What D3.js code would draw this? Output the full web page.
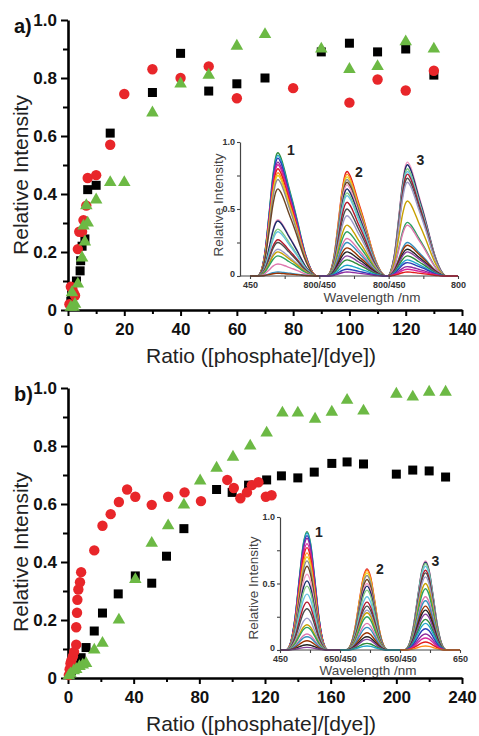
<!DOCTYPE html>
<html>
<head>
<meta charset="utf-8">
<script src="https://cdn.jsdelivr.net/npm/d3@7/dist/d3.min.js"></script>
<style>
   body { margin: 0; background: #fff; }
   svg { display: block; font-family: "Liberation Sans", Arial, sans-serif; }
</style>
</head>
<body>
<svg id="chart" width="479" height="736"></svg>
<script>
// ---- panel a scatter ----
const aBlackX = [1, 1.5, 3, 4.3, 4.5, 5, 6, 7, 10, 15, 30, 40, 50, 60, 70, 90, 100, 110, 120, 130];
const aBlackY = [0.03, 0.06, 0.10, 0.135, 0.17, 0.22, 0.245, 0.415, 0.43, 0.61, 0.75, 0.885, 0.755, 0.78, 0.80, 0.89, 0.92, 0.89, 0.90, 0.81];
const aRedX = [0.5, 1, 1.5, 2, 2.5, 3.5, 4, 5, 5.5, 6.5, 7, 10, 15, 20, 30, 40, 50, 60, 80, 100, 110, 120, 130];
const aRedY = [0.02, 0.08, 0.075, 0.06, 0.05, 0.21, 0.27, 0.27, 0.31, 0.36, 0.455, 0.465, 0.57, 0.745, 0.83, 0.80, 0.84, 0.73, 0.765, 0.715, 0.795, 0.757, 0.825];
const aGreenX = [1, 1.4, 2, 2.5, 3.5, 5, 5.5, 6, 6.5, 7, 10, 15, 20, 30, 40, 50, 60, 70, 90, 100, 110, 120, 130];
const aGreenY = [0.01, 0.06, 0.01, 0.02, 0.09, 0.18, 0.29, 0.235, 0.36, 0.30, 0.38, 0.44, 0.44, 0.68, 0.78, 0.81, 0.91, 0.95, 0.90, 0.83, 0.84, 0.925, 0.90];
const aXTicks = [0, 20, 40, 60, 80, 100, 120, 140];

// ---- panel b scatter ----
const bBlackX = [2, 5, 8, 11, 16, 21, 30.6, 41, 51, 60, 70.6, 90.5, 100, 110, 121, 130, 140, 150, 160.7, 170, 180, 200, 210, 220, 230];
const bBlackY = [0.025, 0.045, 0.07, 0.105, 0.162, 0.224, 0.29, 0.352, 0.327, 0.42, 0.515, 0.65, 0.64, 0.665, 0.683, 0.697, 0.69, 0.71, 0.74, 0.745, 0.738, 0.703, 0.717, 0.714, 0.693];
const bRedX = [0.5, 1, 1.5, 2, 3, 3.7, 5, 5, 5.5, 5.7, 6.3, 7.3, 8, 16, 21, 26, 31, 36, 41, 51, 61, 71, 81, 97, 101, 105, 109, 112, 116, 120.5, 124];
const bRedY = [0.01, 0.03, 0.05, 0.06, 0.075, 0.09, 0.115, 0.175, 0.225, 0.27, 0.305, 0.33, 0.365, 0.44, 0.525, 0.565, 0.607, 0.65, 0.625, 0.597, 0.625, 0.64, 0.61, 0.683, 0.655, 0.62, 0.64, 0.665, 0.675, 0.625, 0.63];
const bGreenX = [0.5, 1.5, 3.5, 5, 7, 9, 11, 16, 21, 31, 41, 51, 61, 70.6, 80.5, 90.5, 100.5, 111, 121, 130.6, 140, 150.5, 160.7, 170, 180, 200, 210, 220, 230];
const bGreenY = [0.008, 0.015, 0.025, 0.03, 0.04, 0.045, 0.05, 0.097, 0.12, 0.20, 0.34, 0.465, 0.525, 0.597, 0.68, 0.724, 0.762, 0.80, 0.845, 0.914, 0.914, 0.893, 0.917, 0.958, 0.921, 0.979, 0.969, 0.986, 0.986];
const bXTicks = [0, 40, 80, 120, 160, 200, 240];

const yTicks = [0, 0.2, 0.4, 0.6, 0.8, 1.0];

// ---- insets: peak shape (nm from peak, relative value) and curve heights ----
const insetAProfileNm = [-105, -85, -65, -45, -25, -10, 0, 15, 35, 55, 75, 95, 115, 135, 155, 175, 195];
const insetAProfileVal = [0, 0.04, 0.2, 0.5, 0.82, 0.97, 1, 0.96, 0.85, 0.72, 0.6, 0.47, 0.33, 0.2, 0.1, 0.03, 0];
const insetAPeakNm = [591, 590, 545];
const insetAAmp1 = [0.92, 0.9, 0.88, 0.85, 0.83, 0.8, 0.77, 0.75, 0.72, 0.65, 0.42, 0.41, 0.35, 0.33, 0.27, 0.25, 0.2, 0.18, 0.15, 0.09, 0.03, 0.02];
const insetAAmp2 = [0.78, 0.76, 0.74, 0.72, 0.7, 0.68, 0.65, 0.62, 0.6, 0.55, 0.5, 0.45, 0.38, 0.33, 0.28, 0.25, 0.21, 0.18, 0.15, 0.12, 0.08, 0.05, 0.03];
const insetAAmp3 = [0.85, 0.83, 0.8, 0.78, 0.76, 0.73, 0.7, 0.56, 0.4, 0.38, 0.25, 0.23, 0.2, 0.18, 0.15, 0.12, 0.1, 0.07, 0.05, 0.03];

const insetBProfileNm = [-70, -55, -40, -25, -12, 0, 12, 25, 40, 55, 70];
const insetBProfileVal = [0, 0.06, 0.27, 0.62, 0.9, 1, 0.9, 0.62, 0.27, 0.06, 0];
const insetBPeakNm = [540, 540, 535];
const insetBAmp1 = [0.89, 0.88, 0.86, 0.84, 0.8, 0.77, 0.73, 0.7, 0.67, 0.63, 0.57, 0.52, 0.48, 0.42, 0.36, 0.31, 0.24, 0.19, 0.17, 0.12, 0.1, 0.07, 0.04, 0.02];
const insetBAmp2 = [0.61, 0.6, 0.58, 0.56, 0.53, 0.5, 0.48, 0.45, 0.4, 0.36, 0.33, 0.3, 0.28, 0.25, 0.2, 0.17, 0.13, 0.1, 0.08, 0.05, 0.03];
const insetBAmp3 = [0.67, 0.66, 0.65, 0.63, 0.6, 0.58, 0.55, 0.5, 0.46, 0.4, 0.37, 0.33, 0.3, 0.27, 0.23, 0.2, 0.16, 0.12, 0.09, 0.06, 0.03];

const traceColors = ["#2e8b3a", "#1fa6c9", "#2a3fb8", "#8e2ba0", "#d6249f", "#e31a1c", "#ff8c1a", "#e8d020",
   "#8c8c8c", "#6b4423", "#f29ac0", "#1a2b6b", "#7fc97f", "#66c2e0", "#b2182b", "#4d4d4d",
   "#9e9ac8", "#c7a000", "#2ca25f", "#de77ae", "#3690c0", "#993404", "#222222", "#88419d"];

const svg = d3.select("#chart");

function toPoints(xs, ys) { return xs.map((x, i) => ({ x: x, y: ys[i] })); }

function drawAxes(x, y, xTicks, xMinor, yMinor) {
   const g = svg.append("g");
   g.append("g").attr("transform", `translate(0,${y.range()[0]})`)
      .call(d3.axisBottom(x).tickValues(xTicks).tickSize(6).tickSizeOuter(0).tickPadding(7));
   g.append("g").attr("transform", `translate(0,${y.range()[0]})`)
      .call(d3.axisBottom(x).tickValues(xMinor).tickSize(4).tickFormat(""))
      .select(".domain").remove();
   g.append("g").attr("transform", `translate(${x.range()[0]},0)`)
      .call(d3.axisLeft(y).tickValues(yTicks).tickSize(7).tickSizeOuter(0).tickPadding(4)
         .tickFormat(d => d === 0 ? "0" : d3.format(".1f")(d)));
   g.append("g").attr("transform", `translate(${x.range()[0]},0)`)
      .call(d3.axisLeft(y).tickValues(yMinor).tickSize(5).tickFormat(""))
      .select(".domain").remove();
   g.selectAll(".domain").attr("stroke", "#000").attr("stroke-width", 2.6);
   g.selectAll(".tick line").attr("stroke", "#000").attr("stroke-width", 2);
   g.selectAll(".tick text").attr("fill", "#111").attr("font-size", 17).attr("font-weight", "bold")
      .attr("font-family", "Liberation Sans, Arial, sans-serif");
}

function drawSeries(x, y, black, red, green) {
   const g = svg.append("g");
   g.selectAll("rect").data(black).join("rect")
      .attr("x", d => x(d.x) - 4.5).attr("y", d => y(d.y) - 4.5)
      .attr("width", 9).attr("height", 9).attr("fill", "#000");
   g.selectAll("circle").data(red).join("circle")
      .attr("cx", d => x(d.x)).attr("cy", d => y(d.y)).attr("r", 5.2).attr("fill", "#e8262a");
   const tri = d3.symbol().type(d3.symbolTriangle).size(68);
   g.selectAll("path").data(green).join("path")
      .attr("d", tri).attr("transform", d => `translate(${x(d.x)},${y(d.y)})`).attr("fill", "#6cb944");
}

function drawTitles(label, labelY, yTitleMid, xTitleY) {
   svg.append("text").attr("x", 14).attr("y", labelY).attr("font-size", 20).attr("font-weight", "bold")
      .attr("fill", "#111").text(label);
   svg.append("text").attr("transform", `translate(28,${yTitleMid}) rotate(-90)`).attr("text-anchor", "middle")
      .attr("font-size", 21).attr("fill", "#222").text("Relative Intensity");
   svg.append("text").attr("x", 261).attr("y", xTitleY).attr("text-anchor", "middle")
      .attr("font-size", 21).attr("fill", "#222").text("Ratio ([phosphate]/[dye])");
}

function drawInset(o) {
   const span = o.end - o.start;
   const x = d3.scaleLinear().domain([0, span * 3]).range(o.xRange);
   const y = d3.scaleLinear().domain([0, 1]).range(o.yRange);
   const g = svg.append("g");
   const line = d3.line().x(d => x(d[0])).y(d => y(d[1])).curve(d3.curveMonotoneX);
   o.amps.forEach((amps, s) => {
      amps.forEach((a, k) => {
         const pts = [[s * span, 0]];
         o.profNm.forEach((n, j) => {
            const nm = o.peaks[s] + n;
            if (nm > o.start && nm < o.end) pts.push([s * span + nm - o.start, o.profVal[j] * a]);
         });
         pts.push([s * span + span, 0]);
         g.append("path").attr("d", line(pts)).attr("fill", "none")
            .attr("stroke", traceColors[(k + s * 5) % traceColors.length]).attr("stroke-width", 1.4);
      });
   });
   // axes
   const ax = g.append("g").attr("transform", `translate(0,${o.yRange[0]})`)
      .call(d3.axisBottom(x).tickValues(d3.range(0, span * 3 + 1, span / 2)).tickSize(3).tickSizeOuter(0)
         .tickFormat(d => d % span !== 0 ? "" : (d === 0 ? o.start : d === span * 3 ? o.end : o.end + "/" + o.start))
         .tickPadding(3));
   ax.select(".domain").attr("d", `M${o.axisX},0H${o.xRange[1]}`);
   const ay = g.append("g").attr("transform", `translate(${o.axisX},0)`)
      .call(d3.axisLeft(y).tickValues([0, 0.25, 0.5, 0.75, 1]).tickSize(3).tickSizeOuter(0).tickPadding(2)
         .tickFormat(d => d === 0 ? "0" : d === 0.5 ? "0.5" : d === 1 ? "1.0" : ""));
   ay.selectAll(".tick").filter(d => d === 0).select("text").attr("dy", "0.1em");
   g.selectAll(".domain").attr("stroke", "#444").attr("stroke-width", 1.2);
   g.selectAll(".tick line").attr("stroke", "#444").attr("stroke-width", 1.1);
   g.selectAll(".tick text").attr("fill", "#333").attr("font-size", 9).attr("font-weight", "bold")
      .attr("font-family", "Liberation Sans, Arial, sans-serif");
   g.append("text").attr("transform", `translate(${o.yTitleX},${o.yTitleMid}) rotate(-90)`)
      .attr("text-anchor", "middle").attr("font-size", o.titleSize).attr("fill", "#444").text("Relative Intensity");
   g.append("text").attr("x", o.xTitleMid).attr("y", o.xTitleY).attr("text-anchor", "middle")
      .attr("font-size", o.titleSize).attr("fill", "#444").text("Wavelength /nm");
   o.peaks.forEach((p, s) => {
      g.append("text").attr("x", x(s * span + p - o.start) + o.numDx[s]).attr("y", y(o.numY[s]))
         .attr("font-size", 14).attr("font-weight", "bold").attr("fill", "#222").text(s + 1);
   });
}

// panel a
const axA = d3.scaleLinear().domain([0, 140]).range([68, 462]);
const ayA = d3.scaleLinear().domain([0, 1]).range([310, 20]);
drawInset({
   start: 450, end: 800, xRange: [250, 458], yRange: [276, 142], axisX: 240,
   profNm: insetAProfileNm, profVal: insetAProfileVal, peaks: insetAPeakNm,
   amps: [insetAAmp1, insetAAmp2, insetAAmp3],
   yTitleX: 223, yTitleMid: 205, xTitleMid: 372, xTitleY: 302, titleSize: 13.5,
   numDx: [9, 8, 9], numY: [0.9, 0.74, 0.83]
});
drawAxes(axA, ayA, aXTicks, d3.range(10, 140, 20), [0.1, 0.3, 0.5, 0.7, 0.9]);
drawSeries(axA, ayA, toPoints(aBlackX, aBlackY), toPoints(aRedX, aRedY), toPoints(aGreenX, aGreenY));
drawTitles("a)", 33, 175, 363);

// panel b
const axB = d3.scaleLinear().domain([0, 240]).range([68, 462]);
const ayB = d3.scaleLinear().domain([0, 1]).range([678, 388]);
drawInset({
   start: 450, end: 650, xRange: [280, 460], yRange: [650, 517], axisX: 280,
   profNm: insetBProfileNm, profVal: insetBProfileVal, peaks: insetBPeakNm,
   amps: [insetBAmp1, insetBAmp2, insetBAmp3],
   yTitleX: 258, yTitleMid: 588, xTitleMid: 368, xTitleY: 675, titleSize: 13.5,
   numDx: [8, 9, 6], numY: [0.85, 0.57, 0.63]
});
drawAxes(axB, ayB, bXTicks, d3.range(20, 240, 40), [0.1, 0.3, 0.5, 0.7, 0.9]);
drawSeries(axB, ayB, toPoints(bBlackX, bBlackY), toPoints(bRedX, bRedY), toPoints(bGreenX, bGreenY));
drawTitles("b)", 401, 552, 731);
</script>
</body>
</html>
